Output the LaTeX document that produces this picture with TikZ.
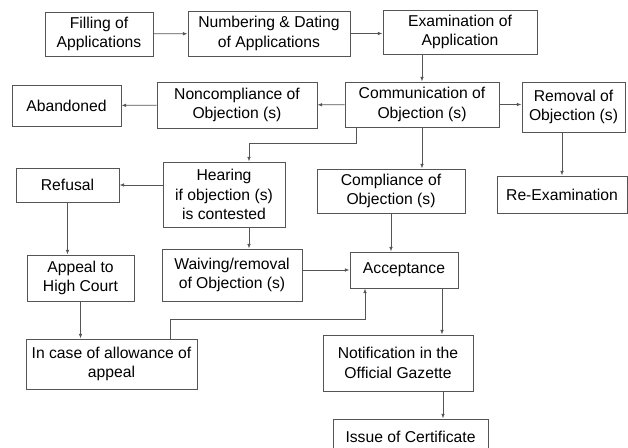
\documentclass[tikz,border=0pt]{standalone}
\usepackage{fontspec}
\setmainfont{Liberation Sans}
\usetikzlibrary{shapes,arrows.meta,positioning}
\definecolor{BoxGrey}{RGB}{85, 85, 85}

\begin{document}
\begin{tikzpicture}[x=0.03cm, y=-0.03cm,
    stage/.style={draw=BoxGrey, line width=0.8pt, align=center, inner sep=2pt,
      font=\fontsize{13.4}{16.5}\selectfont},
    flow/.style={draw=BoxGrey, line width=0.6pt, -{Latex[length=4pt,width=3pt]}}]
    \useasboundingbox (0,0) rectangle (628,447);

    % Filing row
    \node[stage, minimum width=3.24cm, minimum height=1.32cm] (filing) at (99,34) {Filling of\\Applications};
    \node[stage, minimum width=4.86cm, minimum height=1.35cm] (numbering) at (269,33.5) {Numbering \& Dating\\of Applications};
    \node[stage, minimum width=4.62cm, minimum height=1.32cm] (exam) at (460,32) {Examination of\\Application};

    % Objection row
    \node[stage, minimum width=3.27cm, minimum height=1.23cm] (abandoned) at (66.5,105.5) {Abandoned};
    \node[stage, minimum width=4.8cm, minimum height=1.38cm] (noncomp) at (237,105) {Noncompliance of\\Objection (s)};
    \node[stage, minimum width=4.62cm, minimum height=1.35cm] (comm) at (422,104.5) {Communication of\\Objection (s)};
    \node[stage, minimum width=3.09cm, minimum height=1.5cm] (removal) at (573.5,107) {Removal of\\Objection (s)};

    % Hearing row
    \node[stage, minimum width=3.09cm, minimum height=1.02cm] (refusal) at (67.5,185) {Refusal};
    \node[stage, minimum width=3.66cm, minimum height=1.95cm] (hearing) at (224,194.5) {Hearing\\if objection (s)\\is contested};
    \node[stage, minimum width=4.44cm, minimum height=1.32cm] (comply) at (391,191) {Compliance of\\Objection (s)};
    \node[stage, minimum width=3.9cm, minimum height=1.11cm] (reexam) at (562,194.5) {Re-Examination};

    % Acceptance row
    \node[stage, minimum width=3.21cm, minimum height=1.38cm] (appeal) at (80.5,278) {Appeal to\\High Court};
    \node[stage, minimum width=4.2cm, minimum height=1.56cm] (waiving) at (232,275) {Waiving/removal\\of Objection (s)};
    \node[stage, minimum width=3.24cm, minimum height=1.08cm] (accept) at (404,270) {Acceptance};

    % Bottom
    \node[stage, minimum width=5.13cm, minimum height=1.5cm] (allow) at (111.5,364) {In case of allowance of\\appeal};
    \node[stage, minimum width=4.5cm, minimum height=1.68cm] (gazette) at (398,363) {Notification in the\\Official Gazette};
    \node[stage, minimum width=4.65cm, minimum height=1.08cm] (issue) at (410.5,437) {Issue of Certificate};

    % Connectors
    \draw[flow] (filing) -- (numbering);
    \draw[flow] (numbering.east) -- (numbering.east -| exam.west);
    \draw[flow] (comm |- exam.south) -- (comm.north);
    \draw[flow] (comm) -- (noncomp);
    \draw[flow] (noncomp) -- (abandoned);
    \draw[flow] (comm.east) -- (comm.east -| removal.west);
    \draw[flow] (reexam.north |- removal.south) -- (reexam.north);
    \draw[flow] ([xshift=-1.98cm]comm.south) -- ++(0,16) -| ([xshift=0.75cm]hearing.north);
    \draw[flow] (comm.south) -- (comm.south |- comply.north);
    \draw[flow] (hearing.west |- refusal.east) -- (refusal.east);
    \draw[flow] ([xshift=0.75cm]hearing.south) -- ([xshift=0.75cm]hearing.south |- waiving.north);
    \draw[flow] (refusal.south) -- (refusal.south |- appeal.north);
    \draw[flow] (appeal.south) -- (appeal.south |- allow.north);
    \draw[flow] (waiving.east |- accept.west) -- (accept.west);
    \draw[flow] (comply.south) -- (comply.south |- accept.north);
    \draw[flow] ([xshift=1.76cm]allow.north) -- ++(0,-19) -| ([xshift=-1.17cm]accept.south);
    \draw[flow] ([xshift=1.14cm]accept.south) -- ([xshift=1.14cm]accept.south |- gazette.north);
    \draw[flow] ([xshift=1.35cm]gazette.south) -- ([xshift=1.35cm]gazette.south |- issue.north);
\end{tikzpicture}
\end{document}
